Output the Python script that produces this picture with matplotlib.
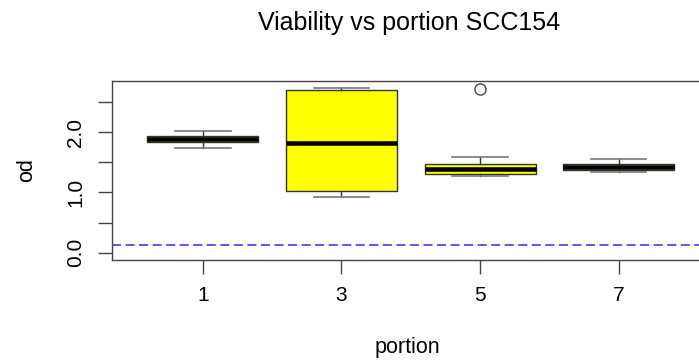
import matplotlib
matplotlib.use('Agg')
import matplotlib.pyplot as plt

plt.rcParams['font.family'] = ['Liberation Sans', 'DejaVu Sans']

# boxplot summary values
portions = ['1', '3', '5', '7']
q1 = [1.83, 1.03, 1.30, 1.38]
medians = [1.88, 1.82, 1.39, 1.43]
q3 = [1.94, 2.70, 1.47, 1.47]
whis_lo = [1.73, 0.92, 1.27, 1.34]
whis_hi = [2.02, 2.74, 1.58, 1.55]
outliers = [[], [], [2.71], []]
ref_line = 0.12

stats = []
for i in range(len(portions)):
    stats.append({'label': portions[i], 'q1': q1[i], 'med': medians[i], 'q3': q3[i],
                  'whislo': whis_lo[i], 'whishi': whis_hi[i], 'fliers': outliers[i]})

fig = plt.figure(figsize=(6.99, 3.63), dpi=100)
ax = fig.add_axes([0.160, 0.284, 0.847, 0.493])

ax.bxp(stats, positions=[1, 2, 3, 4], widths=0.8, patch_artist=True,
       boxprops=dict(facecolor='#ffff00', edgecolor='#333333', linewidth=1.0),
       medianprops=dict(color='black', linewidth=3.3, solid_capstyle='butt'),
       whiskerprops=dict(color='#333333', linewidth=1.0),
       capprops=dict(color='#777777', linewidth=1.2),
       capwidths=0.4,
       flierprops=dict(marker='o', markerfacecolor='none', markeredgecolor='#444444',
                       markersize=8, markeredgewidth=1.0))

ax.axhline(ref_line, color='#4a4aff', linestyle=(0, (5, 2.5)), linewidth=1.3)

ax.set_xlim(0.343, 4.615)
ax.set_ylim(-0.12, 2.85)
ax.set_yticks([0, 0.5, 1.0, 1.5, 2.0, 2.5])
ax.set_yticklabels(['0.0', '', '1.0', '', '2.0', ''], rotation=90, va='center')
ax.set_xticks([1, 2, 3, 4])
ax.set_xticklabels(portions)

ax.tick_params(axis='both', direction='out', length=10, width=1.0, colors='#444444',
               labelcolor='black', labelsize=15, pad=9)
for s in ax.spines.values():
    s.set_color('#444444')
    s.set_linewidth(1.0)

ax.set_xlabel('portion', fontsize=15.5, labelpad=23)
ax.set_ylabel('od', fontsize=15.5, labelpad=21)
fig.text(0.585, 0.937, 'Viability vs portion SCC154', ha='center', va='center', fontsize=18)

fig.savefig('out.png', dpi=100)
